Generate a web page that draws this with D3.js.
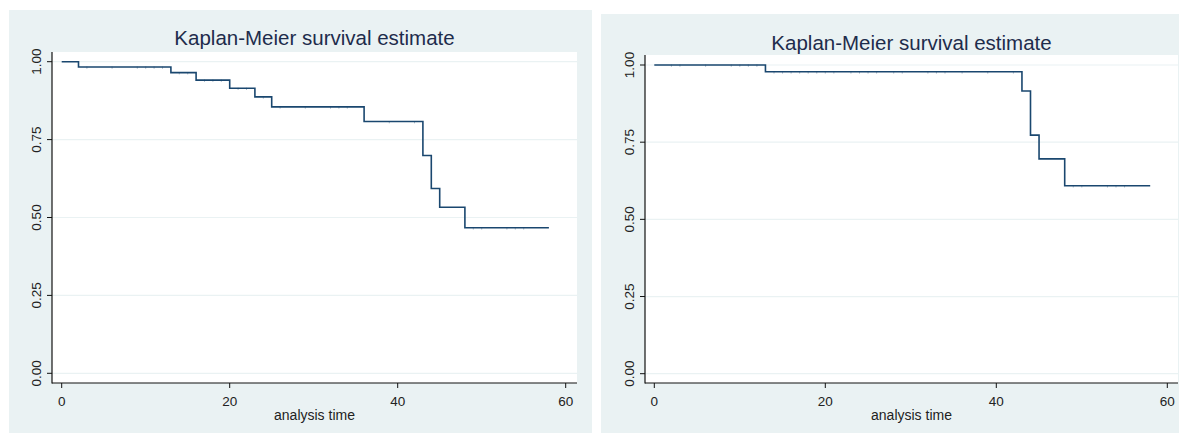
<!DOCTYPE html>
<html>
<head>
<meta charset="utf-8">
<script src="https://cdn.jsdelivr.net/npm/d3@7"></script>
<style>
  body { margin: 0; background: #ffffff; }
  svg { display: block; }
  text { font-family: Arial, "Liberation Sans", sans-serif; }
</style>
</head>
<body>
<svg></svg>
<script>
// step points (time, survival)
var leftTimes = [0, 2, 13, 16, 20, 23, 25, 36, 43, 44, 45, 48, 58];
var leftSurv = [1, 0.983, 0.965, 0.941, 0.915, 0.887, 0.855, 0.808, 0.699, 0.593, 0.533, 0.467, 0.467];
var leftCensor = [3, 6, 9, 10, 11, 12, 14, 15, 17, 18, 19, 21, 22, 24, 26, 29, 32, 33, 34, 39, 42, 49, 50, 53, 54, 55];

var rightTimes = [0, 13, 43, 44, 45, 48, 58];
var rightSurv = [1, 0.978, 0.916, 0.773, 0.696, 0.609, 0.609];
var rightCensor = [2, 3, 6, 9, 10, 11, 12, 14, 15, 16, 17, 18, 19, 20, 21, 23, 24, 25, 26, 28, 29, 32, 33, 34, 36, 39, 42, 49, 50, 53, 54, 55];

var xTicks = [0, 20, 40, 60];
var yTicks = [0, 0.25, 0.5, 0.75, 1];
var title = "Kaplan-Meier survival estimate";
var xTitle = "analysis time";

var screen = {width: 1179, height: 434};

var svg = d3.select("svg")
            .attr("width", screen.width)
            .attr("height", screen.height);

var navy = "#1a476f";
var bgColor = "#eaf2f3";

var panels = [
  {bg: [9, 10, 592, 433], plot: [52, 52, 577, 383], x0: 61.7, x60: 565.7, y1: 61.7, y0: 373.3, titleY: 45,
   times: leftTimes, surv: leftSurv, censor: leftCensor},
  {bg: [601, 14, 1179, 433], plot: [645, 55, 1178, 383], x0: 654.3, x60: 1167.3, y1: 65, y0: 373.7, titleY: 50,
   times: rightTimes, surv: rightSurv, censor: rightCensor}
];

panels.forEach(function(p)
{
  var g = svg.append("g");

  g.append("rect")
   .attr("x", p.bg[0]).attr("y", p.bg[1])
   .attr("width", p.bg[2] - p.bg[0]).attr("height", p.bg[3] - p.bg[1])
   .attr("fill", bgColor);

  g.append("rect")
   .attr("x", p.plot[0]).attr("y", p.plot[1])
   .attr("width", p.plot[2] - p.plot[0]).attr("height", p.plot[3] - p.plot[1])
   .attr("fill", "#ffffff");

  var xScale = d3.scaleLinear().domain([0, 60]).range([p.x0, p.x60]);
  var yScale = d3.scaleLinear().domain([0, 1]).range([p.y0, p.y1]);

  // gridlines
  g.selectAll(".grid")
   .data(yTicks)
   .enter()
   .append("line")
   .attr("x1", p.plot[0]).attr("x2", p.plot[2])
   .attr("y1", function(d){ return yScale(d); })
   .attr("y2", function(d){ return yScale(d); })
   .attr("stroke", bgColor)
   .attr("stroke-width", 1.2);

  // y axis
  g.append("line")
   .attr("x1", p.plot[0]).attr("x2", p.plot[0])
   .attr("y1", p.plot[1]).attr("y2", p.plot[3] + 0.5)
   .attr("stroke", "#111").attr("stroke-width", 1.2);
  g.selectAll(".ytick")
   .data(yTicks)
   .enter()
   .append("line")
   .attr("x1", p.plot[0] - 5).attr("x2", p.plot[0])
   .attr("y1", function(d){ return yScale(d); })
   .attr("y2", function(d){ return yScale(d); })
   .attr("stroke", "#111").attr("stroke-width", 1);
  g.selectAll(".ylab")
   .data(yTicks)
   .enter()
   .append("text")
   .attr("transform", function(d){ return "translate(" + (p.plot[0] - 11) + "," + yScale(d) + ") rotate(-90)"; })
   .attr("text-anchor", "middle")
   .attr("font-size", 13.5)
   .attr("fill", "#222")
   .text(function(d){ return d3.format(".2f")(d); });

  // x axis
  g.append("line")
   .attr("x1", p.plot[0]).attr("x2", p.plot[2])
   .attr("y1", p.plot[3]).attr("y2", p.plot[3])
   .attr("stroke", "#111").attr("stroke-width", 1.2);
  g.selectAll(".xtick")
   .data(xTicks)
   .enter()
   .append("line")
   .attr("x1", function(d){ return xScale(d); })
   .attr("x2", function(d){ return xScale(d); })
   .attr("y1", p.plot[3]).attr("y2", p.plot[3] + 5)
   .attr("stroke", "#111").attr("stroke-width", 1);
  g.selectAll(".xlab")
   .data(xTicks)
   .enter()
   .append("text")
   .attr("x", function(d){ return xScale(d); })
   .attr("y", p.plot[3] + 23)
   .attr("text-anchor", "middle")
   .attr("font-size", 13.5)
   .attr("fill", "#222")
   .text(function(d){ return d; });

  g.append("text")
   .attr("x", (p.plot[0] + p.plot[2]) / 2)
   .attr("y", p.plot[3] + 37)
   .attr("text-anchor", "middle")
   .attr("font-size", 14)
   .attr("fill", "#222")
   .text(xTitle);

  g.append("text")
   .attr("x", (p.plot[0] + p.plot[2]) / 2)
   .attr("y", p.titleY)
   .attr("text-anchor", "middle")
   .attr("font-size", 20.5)
   .attr("fill", "#1e2c4c")
   .text(title);

  // survival step line
  var pts = p.times.map(function(t, i){ return [t, p.surv[i]]; });
  var line = d3.line()
               .x(function(d){ return xScale(d[0]); })
               .y(function(d){ return yScale(d[1]); })
               .curve(d3.curveStepAfter);
  g.append("path")
   .datum(pts)
   .attr("d", line)
   .attr("fill", "none")
   .attr("stroke", navy)
   .attr("stroke-width", 1.6);

  // censoring ticks
  var survAt = function(t)
  {
    var i = d3.bisectRight(p.times, t) - 1;
    return p.surv[Math.max(0, i)];
  };
  g.selectAll(".cens")
   .data(p.censor)
   .enter()
   .append("line")
   .attr("x1", function(d){ return xScale(d); })
   .attr("x2", function(d){ return xScale(d); })
   .attr("y1", function(d){ return yScale(survAt(d)) - 0.5; })
   .attr("y2", function(d){ return yScale(survAt(d)) + 1.8; })
   .attr("stroke", navy)
   .attr("stroke-opacity", 0.6)
   .attr("stroke-width", 0.6);
});
</script>
</body>
</html>
